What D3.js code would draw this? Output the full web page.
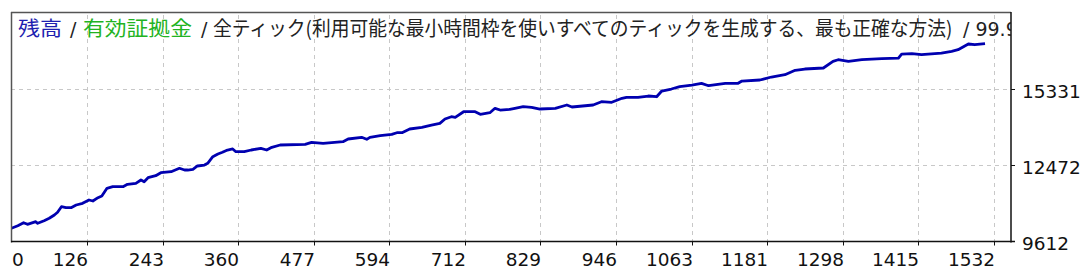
<!DOCTYPE html>
<html><head><meta charset="utf-8">
<script src="https://cdn.jsdelivr.net/npm/d3@7"></script>
<style>html,body{margin:0;padding:0;background:#fff;}svg{display:block;}</style>
</head><body>
<script>
// ---- data ----
const tradeIdx = [0,10,19,25,38,41,51,59,67,72,78,85,93,101,111,121,127,135,141,149,158,174,181,194,202,207,213,225,233,249,262,270,275,283,290,301,306,314,322,329,337,345,350,363,374,389,398,406,419,458,468,486,517,525,546,554,559,575,593,601,609,621,640,655,668,676,686,692,705,723,731,746,754,762,777,785,798,811,824,848,866,874,907,920,936,952,959,977,993,1006,1014,1029,1042,1061,1076,1087,1113,1133,1139,1167,1185,1206,1222,1237,1266,1281,1289,1305,1326,1357,1383,1388,1404,1419,1450,1466,1476,1492,1502,1518];
const balance = [10073,10172,10285,10225,10323,10262,10361,10452,10576,10679,10890,10852,10852,10955,11019,11144,11106,11231,11295,11586,11647,11647,11737,11775,11900,11836,11987,12063,12176,12214,12343,12278,12278,12305,12430,12467,12532,12781,12883,12948,13035,13073,12970,12970,13035,13099,13035,13137,13224,13250,13326,13288,13349,13451,13515,13439,13515,13575,13628,13689,13689,13829,13893,13980,14044,14207,14294,14271,14483,14483,14385,14445,14612,14547,14574,14612,14672,14650,14585,14612,14737,14661,14737,14861,14839,14990,15028,15028,15077,15050,15266,15342,15429,15493,15557,15467,15557,15557,15644,15682,15796,15883,16049,16098,16136,16389,16450,16389,16450,16488,16514,16665,16677,16639,16703,16768,16828,17044,17017,17055];
const xTickLabels = ["0","126","243","360","477","594","712","829","946","1063","1181","1298","1415","1532"];
const yTickValues = [9612,12472,15331];
const titleParts = [
  {text:"残高", color:"#1f1fb0", cjk:true},
  {text:"/", color:"#222", cjk:false},
  {text:"有効証拠金", color:"#22b322", cjk:true},
  {text:"/", color:"#222", cjk:false},
  {text:"全ティック(利用可能な最小時間枠を使いすべてのティックを生成する、最も正確な方法)", color:"#222", cjk:true},
  {text:"/ 99.90%", color:"#222", cjk:false}
];

// ---- layout ----
const W = 1091, H = 276;
const L = 11, T = 12, R = 1011, B = 241.5;
const svg = d3.select("body").append("svg").attr("width", W).attr("height", H);

const x = d3.scaleLinear().domain([0, 1532]).range([11.4, 994]);
const y = d3.scaleLinear().domain([9612, 15331]).range([240.5, 89.3]);
const tickPos = i => x(i * 1532 / (xTickLabels.length - 1));

svg.append("defs").append("clipPath").attr("id","plot")
  .append("rect").attr("x", L).attr("y", T).attr("width", R - L).attr("height", B - T);

// grid
const grid = svg.append("g").attr("stroke", "#c8c8c8").attr("stroke-width", 1).attr("stroke-dasharray", "4,4");
xTickLabels.forEach((d, i) => {
  if (i === 0) return;
  const px = Math.round(tickPos(i)) + 0.5;
  grid.append("line").attr("x1", px).attr("x2", px).attr("y1", T + 3).attr("y2", B);
});
yTickValues.slice(1).forEach(v => {
  const py = Math.round(y(v)) + 0.5;
  grid.append("line").attr("x1", L).attr("x2", R).attr("y1", py).attr("y2", py);
});

// line
const line = d3.line().x((d, i) => x(tradeIdx[i])).y(d => y(d));
svg.append("path").datum(balance)
  .attr("fill", "none").attr("stroke", "#0000b0").attr("stroke-width", 2.8)
  .attr("stroke-linejoin", "round")
  .attr("clip-path", "url(#plot)")
  .attr("d", line);

// frame
svg.append("line").attr("x1", L + 0.5).attr("x2", L + 0.5).attr("y1", T).attr("y2", B + 1).attr("stroke", "#555").attr("stroke-width", 1.5);
svg.append("line").attr("x1", L).attr("x2", R).attr("y1", T + 0.5).attr("y2", T + 0.5).attr("stroke", "#555").attr("stroke-width", 1.5);
svg.append("line").attr("x1", R).attr("x2", R).attr("y1", T).attr("y2", B + 1).attr("stroke", "#111").attr("stroke-width", 1.5);
svg.append("line").attr("x1", L).attr("x2", R + 4).attr("y1", B).attr("y2", B).attr("stroke", "#111").attr("stroke-width", 1.5);

// x ticks
const numFont = "'DejaVu Sans', Verdana, sans-serif";
xTickLabels.forEach((d, i) => {
  const px = Math.round(tickPos(i)) + 0.5;
  if (i > 0) svg.append("line").attr("x1", px).attr("x2", px).attr("y1", B).attr("y2", B + 4).attr("stroke", "#111").attr("stroke-width", 1);
  svg.append("text").attr("x", i === 0 ? 12 : px + 0.5).attr("y", 265.5)
    .attr("text-anchor", i === 0 ? "start" : "end")
    .attr("font-family", numFont).attr("font-size", 18.5).attr("fill", "#111").text(d);
});
// y ticks
yTickValues.forEach(v => {
  const py = Math.round(y(v)) + 0.5;
  svg.append("line").attr("x1", R).attr("x2", R + 4).attr("y1", py).attr("y2", py).attr("stroke", "#111").attr("stroke-width", 1);
  svg.append("text").attr("x", 1022).attr("y", py + 8.5)
    .attr("font-family", numFont).attr("font-size", 18.5).attr("fill", "#111").text(v);
});

// title (each CJK segment squeezed horizontally to the reference width)
const titleX = [18, 70, 83, 201, 213, 963];
const titleLen = [44, null, 109, null, 740, null];
const tg = svg.append("g").attr("clip-path", "url(#plot)");
titleParts.forEach((p, i) => {
  const g = tg.append("g");
  const t = g.append("text").attr("x", 0).attr("y", 0)
    .attr("font-family", p.cjk ? "'Noto Sans CJK JP', sans-serif" : numFont)
    .attr("font-size", p.cjk ? 20 : 19)
    .attr("fill", p.color).text(p.text);
  let sx = 1;
  if (titleLen[i]) {
    const nat = t.node().getComputedTextLength();
    sx = titleLen[i] / nat;
  }
  g.attr("transform", `translate(${titleX[i]},36) scale(${sx},1)`);
});
</script>
</body></html>
